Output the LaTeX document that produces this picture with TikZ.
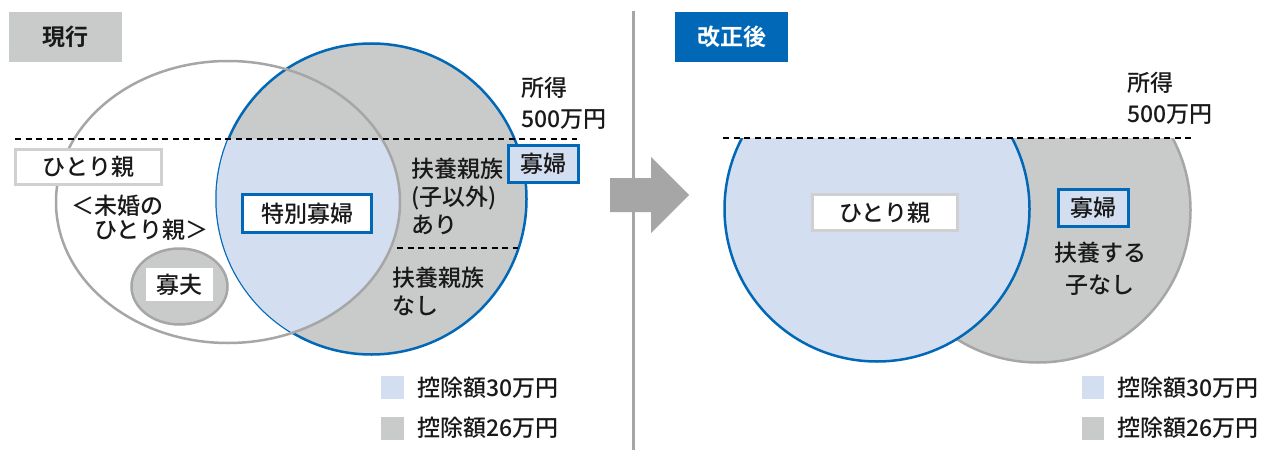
\documentclass[tikz,border=0pt]{standalone}
\usepackage{fontspec}
\setmainfont{Noto Sans CJK JP Medium}[BoldFont=Noto Sans CJK JP Bold]
\usepackage{tikz}
\usepackage{xcolor}
\definecolor{venn-blue}{HTML}{0068B7}
\definecolor{venn-light}{HTML}{D3DEF0}
\definecolor{venn-gray}{HTML}{C9CACA}
\definecolor{line-gray}{HTML}{A6A6A6}
\definecolor{box-gray}{HTML}{D0D0D0}
\tikzset{
    jp-text/.style = {font=\fontsize{23}{28}\selectfont, text=black!90, inner sep=0pt},
    white-box/.style = {jp-text, draw=box-gray, fill=white, line width=3pt, rectangle},
    blue-box/.style = {jp-text, draw=venn-blue, fill=white, line width=3pt, rectangle},
    widow-box/.style = {blue-box, fill=venn-light, minimum width=70, minimum height=37},
    title-box/.style = {jp-text, font=\fontsize{23}{28}\selectfont\bfseries, minimum width=113, minimum height=50},
    venn-line/.style = {line width=2.5pt},
    limit-line/.style = {line width=2pt, dash pattern=on 6pt off 4.5pt},
}

\begin{document}
\begin{tikzpicture}[x=1pt, y=-1pt]
\useasboundingbox (0,0) rectangle (1277,452);
\fill[white] (0,0) rectangle (1277,452);
\node[title-box, fill=venn-gray] (now) at (65.5,37) {現行};
\node[title-box, fill=venn-blue, text=white] (after) at (731.5,37) {改正後};
\fill[venn-gray] (371.5,199) ellipse [x radius=155, y radius=155.5];
\draw[venn-line, venn-blue] (371.5,199) ellipse [x radius=155, y radius=155.5];
\begin{scope}
    \clip (371.5,199) ellipse [x radius=155, y radius=155.5];
    \clip (0,139) rectangle (633,452);
    \fill[venn-light] (228,202) ellipse [x radius=172, y radius=141];
\end{scope}
\draw[venn-line, line-gray] (228,202) ellipse [x radius=172, y radius=141];
\filldraw[venn-line, draw=line-gray, fill=venn-gray] (179.5,286.5) ellipse [x radius=48, y radius=38];
\coordinate (limit-l1) at (15,139);
\coordinate (limit-l2) at (577,139);
\coordinate (kin-l1) at (397,248);
\coordinate (kin-l2) at (518,248);
\draw[limit-line] (limit-l1) -- (limit-l2);
\draw[limit-line] (kin-l1) -- (kin-l2);
\node[white-box, minimum width=146, minimum height=35] (single-l) at (88.5,167) {ひとり親};
\node[jp-text, anchor=west] (unmarried-1) at (71,206) {＜未婚の};
\node[jp-text, anchor=west] (unmarried-2) at (94,230) {ひとり親＞};
\node[jp-text, fill=white, minimum width=67, minimum height=33] (widower) at (179.5,284.5) {寡夫};
\node[blue-box, minimum width=129, minimum height=38] (special) at (307,213.5) {特別寡婦};
\node[jp-text, anchor=west, align=left] (kin-yes) at (411,196) {扶養親族\\(子以外)\\あり};
\node[jp-text, anchor=west, align=left] (kin-no) at (392,291) {扶養親族\\なし};
\node[widow-box] (widow-l) at (543.5,164) {寡婦};
\node[jp-text, anchor=west, align=left, font=\fontsize{23}{31}\selectfont] (income-l) at (521,103.5) {所得\\500万円};
\fill[venn-light] (381,376) rectangle (404,399);
\fill[venn-gray] (381,417) rectangle (404,440);
\node[jp-text, anchor=west] (legend-l1) at (417,388) {控除額30万円};
\node[jp-text, anchor=west] (legend-l2) at (417,428) {控除額26万円};
\draw[line-gray, line width=3pt] (633,11) -- (633,450);
\fill[line-gray] (610,178) -- (651,178) -- (651,157) -- (689,195) -- (651,233) -- (651,212) -- (610,212) -- cycle;
\begin{scope}
    \clip (700,138) rectangle (1277,452);
    \filldraw[venn-line, draw=line-gray, fill=venn-gray] (1038,210) circle [radius=152.5];
    \filldraw[venn-line, draw=venn-blue, fill=venn-light] (877,209) circle [radius=152.5];
\end{scope}
\coordinate (limit-r1) at (723,138);
\coordinate (limit-r2) at (1194,138);
\draw[limit-line] (limit-r1) -- (limit-r2);
\node[white-box, minimum width=145, minimum height=36] (single-r) at (885,212.5) {ひとり親};
\node[widow-box] (widow-r) at (1093.5,208) {寡婦};
\node[jp-text, align=center, font=\fontsize{23}{32}\selectfont] (nochild) at (1100,269) {扶養する\\子なし};
\node[jp-text, anchor=west, align=left, font=\fontsize{23}{31}\selectfont] (income-r) at (1127,98.5) {所得\\500万円};
\fill[venn-light] (1082,376) rectangle (1104,399);
\fill[venn-gray] (1082,417) rectangle (1104,440);
\node[jp-text, anchor=west] (legend-r1) at (1117,388) {控除額30万円};
\node[jp-text, anchor=west] (legend-r2) at (1117,428) {控除額26万円};
\end{tikzpicture}
\end{document}
